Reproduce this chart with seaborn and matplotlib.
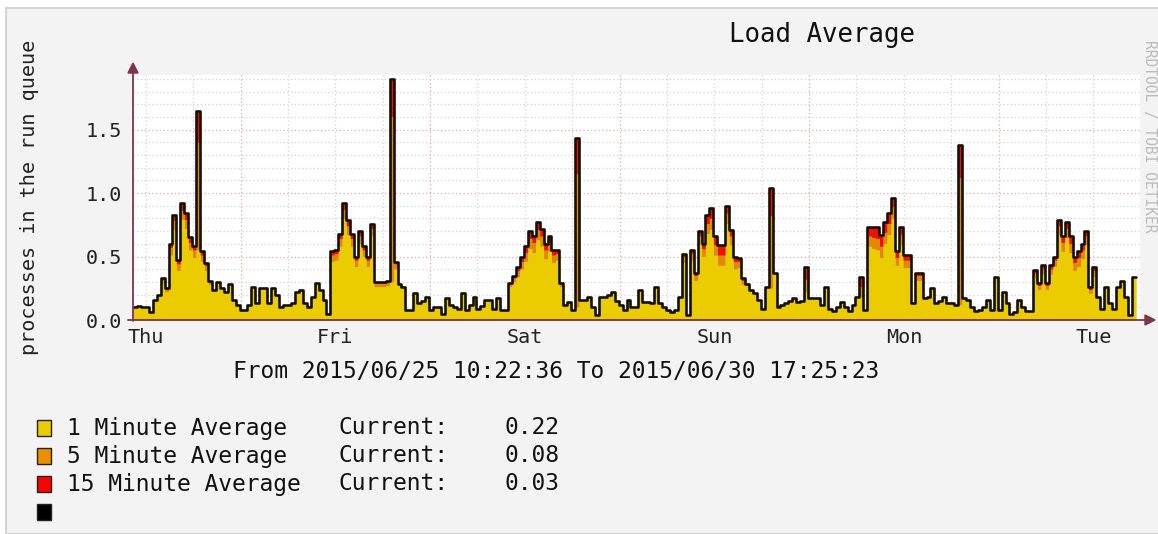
import numpy as np
import pandas as pd
import seaborn as sns
import matplotlib.pyplot as plt
from matplotlib.patches import Rectangle, Polygon
from matplotlib.lines import Line2D

# Load average, one value per 30 minutes
# (top of the stack = black line)
total_load = [
    .10, .11, .10, .10, .06, .16, .20, .33, .25, .60,
    .83, .47, .92, .84, .65, .58, 1.65, .54, .45, .31,
    .24, .30, .25, .22, .28, .16, .12, .08, .08, .12,
    .26, .13, .25, .25, .13, .25, .20, .10, .12, .12,
    .13, .22, .24, .13, .10, .18, .29, .24, .16, .05,
    .54, .55, .68, .92, .79, .68, .50, .70, .58, .50,
    .76, .30, .30, .30, .31, 1.90, .46, .28, .26, .08,
    .08, .21, .13, .15, .18, .08, .10, .10, .05, .17,
    .12, .10, .09, .21, .08, .12, .18, .09, .11, .16,
    .16, .09, .17, .08, .08, .29, .35, .42, .50, .58,
    .70, .66, .77, .72, .60, .66, .55, .55, .29, .12,
    .14, .08, 1.43, .16, .16, .18, .10, .04, .18, .18,
    .20, .22, .15, .12, .08, .16, .10, .10, .24, .14,
    .14, .13, .26, .13, .10, .08, .06, .08, .18, .52,
    .04, .55, .37, .70, .60, .83, .88, .66, .59, .59,
    .90, .71, .50, .49, .33, .28, .24, .21, .16, .09,
    .26, 1.04, .37, .10, .12, .13, .15, .17, .14, .15,
    .42, .17, .17, .17, .12, .26, .09, .07, .10, .14,
    .10, .07, .12, .18, .34, .08, .73, .73, .73, .67,
    .77, .84, .96, .54, .73, .51, .51, .13, .37, .37,
    .17, .18, .25, .13, .15, .18, .13, .13, .12, 1.38,
    .17, .16, .10, .07, .08, .10, .16, .08, .34, .08,
    .22, .13, .05, .06, .16, .10, .07, .07, .39, .29,
    .43, .29, .43, .50, .79, .66, .77, .66, .50, .54,
    .60, .70, .26, .42, .18, .09, .26, .13, .09, .26,
    .31, .18, .04, .34, .34,
]

# thickness of the orange (5 min) band stacked on the yellow
band_5min = [
    0, 0, 0, 0, 0, 0, 0, .03, .02, .06,
    .07, .05, .07, .07, .06, .06, .85, .05, .04, .02,
    0, 0, 0, 0, 0, 0, 0, 0, 0, 0,
    0, 0, 0, 0, 0, 0, 0, 0, 0, 0,
    0, 0, 0, 0, 0, 0, 0, 0, 0, 0,
    .05, .05, .06, .07, .07, .06, .05, .06, .05, .05,
    .06, .03, .03, .03, .03, 1.30, .04, 0, 0, 0,
    0, 0, 0, 0, 0, 0, 0, 0, 0, 0,
    0, 0, 0, 0, 0, 0, 0, 0, 0, 0,
    0, 0, 0, 0, 0, .02, .03, .05, .06, .07,
    .08, .08, .08, .08, .07, .07, .06, .05, .02, 0,
    0, 0, 1.05, 0, 0, 0, 0, 0, 0, 0,
    0, 0, 0, 0, 0, 0, 0, 0, 0, 0,
    0, 0, 0, 0, 0, 0, 0, 0, 0, .05,
    0, .05, .04, .06, .06, .08, .09, .08, .08, .08,
    .08, .07, .06, .05, .03, 0, 0, 0, 0, 0,
    0, .57, 0, 0, 0, 0, 0, 0, 0, 0,
    .10, 0, 0, 0, 0, 0, 0, 0, 0, 0,
    0, 0, 0, 0, .08, 0, .08, .09, .09, .09,
    .09, .09, .09, .06, .08, .06, .06, 0, .04, .04,
    0, 0, 0, 0, 0, 0, 0, 0, 0, 1.00,
    0, 0, 0, 0, 0, 0, 0, 0, 0, 0,
    0, 0, 0, 0, 0, 0, 0, 0, .04, .03,
    .04, .03, .04, .05, .07, .07, .07, .07, .06, .07,
    .07, .07, .03, .05, 0, 0, 0, 0, 0, 0,
    0, 0, 0, 0, 0,
]

# thickness of the red (15 min) band on top of that
band_15min = [
    0, 0, 0, 0, 0, 0, 0, .01, .01, .03,
    .05, .03, .06, .05, .04, .03, .25, .03, .02, .01,
    0, 0, 0, 0, 0, 0, 0, 0, 0, 0,
    0, 0, 0, 0, 0, 0, 0, 0, 0, 0,
    0, 0, 0, 0, 0, 0, 0, 0, 0, 0,
    .03, .03, .04, .05, .05, .04, .03, .04, .03, .03,
    .04, .01, .01, .01, .01, .30, .02, 0, 0, 0,
    0, 0, 0, 0, 0, 0, 0, 0, 0, 0,
    0, 0, 0, 0, 0, 0, 0, 0, 0, 0,
    0, 0, 0, 0, 0, .01, .02, .03, .04, .05,
    .06, .05, .06, .06, .05, .05, .04, .03, .01, 0,
    0, 0, .28, 0, 0, 0, 0, 0, 0, 0,
    0, 0, 0, 0, 0, 0, 0, 0, 0, 0,
    0, 0, 0, 0, 0, 0, 0, 0, 0, .02,
    0, .03, .02, .04, .04, .07, .08, .07, .08, .08,
    .06, .05, .04, .03, .02, 0, 0, 0, 0, 0,
    0, .22, 0, 0, 0, 0, 0, 0, 0, 0,
    .10, 0, 0, 0, 0, 0, 0, 0, 0, 0,
    0, 0, 0, 0, .08, 0, .07, .08, .09, .09,
    .08, .08, .07, .05, .06, .04, .04, 0, .02, .02,
    0, 0, 0, 0, 0, 0, 0, 0, 0, .26,
    0, 0, 0, 0, 0, 0, 0, 0, 0, 0,
    0, 0, 0, 0, 0, 0, 0, 0, .02, .02,
    .03, .02, .03, .03, .05, .05, .05, .06, .05, .05,
    .05, .04, .02, .03, 0, 0, 0, 0, 0, 0,
    0, 0, 0, 0, 0,
]

day_labels = ["Thu", "Fri", "Sat", "Sun", "Mon", "Tue"]
legend_names = ["1 Minute Average", "5 Minute Average", "15 Minute Average", ""]
legend_current = ["0.22", "0.08", "0.03", None]
legend_colors = ["#EACC00", "#EA8F00", "#FF0000", "#000000"]

span_hours = 127.05        # 2015/06/25 10:22:36 -> 2015/06/30 17:25:23
first_noon = 1.6233        # hours from start to Thu 12:00

W, H = 1158, 534
def fx(px):
    return px / W
def fy(py):
    return 1 - py / H

sns.set_theme(style="white")
plt.rcParams['font.family'] = ['DejaVu Sans Mono']

total = np.array(total_load)
b5 = np.array(band_5min)
b15 = np.array(band_15min)
yellow = total - b5 - b15

hours = np.arange(len(total)) * 0.5
# extend by one point so the last step reaches the end of the range
x_ext = np.append(hours, span_hours)
def ext(a):
    return np.append(a, a[-1])

fig = plt.figure(figsize=(W / 100, H / 100), dpi=100, facecolor="white")
fig.patches.append(Rectangle((fx(6), 0), 1, fy(8), transform=fig.transFigure,
                             facecolor="#F3F3F3", edgecolor="#D4D4D4", lw=1.5, zorder=-10))

ax = fig.add_axes([fx(133), fy(320), 1007 / W, 245 / H])
ax.set_facecolor("white")
ax.set_xlim(0, 1007 / 7.896)
ax.set_ylim(0, 1.93)

# grid, rrdtool style
for yv in np.arange(0.1, 1.95, 0.1):
    major = abs(yv / 0.5 - round(yv / 0.5)) < 1e-6
    ax.axhline(yv, color="#E6A8A8" if major else "#D2D2D2", lw=0.9,
               ls=(0, (1, 2)), zorder=0)
for k in range(-1, 22):
    xv = first_noon + 6 * k
    if 0 < xv < span_hours + 0.4:
        midnight = (k % 4) == 2
        ax.axvline(xv, color="#E6A8A8" if midnight else "#D2D2D2", lw=0.9,
                   ls=(0, (1, 2)), zorder=0)

ax.fill_between(x_ext, 0, ext(yellow), step="post", color="#EACC00", lw=0, zorder=1)
ax.fill_between(x_ext, ext(yellow), ext(yellow + b5), step="post", color="#E08A00", lw=0, zorder=1)
ax.fill_between(x_ext, ext(yellow + b5), ext(total), step="post", color="#F01000", lw=0, zorder=1)

df = pd.DataFrame({"hours": x_ext, "load": ext(total)})
sns.lineplot(data=df, x="hours", y="load", ax=ax, color="#141008", lw=1.9,
             drawstyle="steps-post", zorder=3)

ax.set_xlabel("")
ax.set_ylabel("")
for s in ax.spines.values():
    s.set_visible(False)

axis_col = "#7E3349"
ax.set_yticks([0.0, 0.5, 1.0, 1.5])
ax.set_yticklabels(["0.0", "0.5", "1.0", "1.5"])
ax.set_xticks([first_noon + 24 * i for i in range(len(day_labels))])
ax.set_xticklabels(day_labels)
ax.tick_params(axis="both", labelsize=14.5, colors="#222222", length=4, width=1,
               color=axis_col, pad=4)
ax.tick_params(axis="x", direction="in", pad=6)

# axes with arrow heads
fig.add_artist(Line2D([fx(133), fx(133)], [fy(321), fy(70)], color=axis_col, lw=1.3))
fig.add_artist(Line2D([fx(128), fx(1146)], [fy(320), fy(320)], color=axis_col, lw=1.3))
fig.add_artist(Polygon([[fx(128), fy(73)], [fx(138), fy(73)], [fx(133), fy(63)]],
                       closed=True, transform=fig.transFigure, color=axis_col))
fig.add_artist(Polygon([[fx(1145), fy(315)], [fx(1145), fy(325)], [fx(1155), fy(320)]],
                       closed=True, transform=fig.transFigure, color=axis_col))

fig.text(fx(822), fy(35), "Load Average", ha="center", va="center",
         fontsize=18.5, color="#111111")
fig.text(fx(30), fy(197), "processes in the run queue", rotation=90,
         ha="center", va="center", fontsize=14.5, color="#222222")
fig.text(fx(1150), fy(40), "RRDTOOL / TOBI OETIKER", rotation=270,
         ha="center", va="top", fontsize=10.5, color="#BBBBBB")
fig.text(fx(556), fy(371), "From 2015/06/25 10:22:36 To 2015/06/30 17:25:23",
         ha="center", va="center", fontsize=16.5, color="#111111")

for i, (name, cur, col) in enumerate(zip(legend_names, legend_current, legend_colors)):
    yc = 428 + 28 * i
    fig.patches.append(Rectangle((fx(37), fy(yc + 8)), 14 / W, 16 / H,
                                 transform=fig.transFigure, facecolor=col,
                                 edgecolor="#222222", lw=1))
    if name:
        fig.text(fx(67), fy(yc), name, va="center", fontsize=16.5, color="#111111")
    if cur is not None:
        fig.text(fx(338), fy(yc), "Current:", va="center", fontsize=16.5, color="#111111")
        fig.text(fx(505), fy(yc), cur, va="center", fontsize=16.5, color="#111111")

fig.savefig("out.png", dpi=100, facecolor=fig.get_facecolor())
